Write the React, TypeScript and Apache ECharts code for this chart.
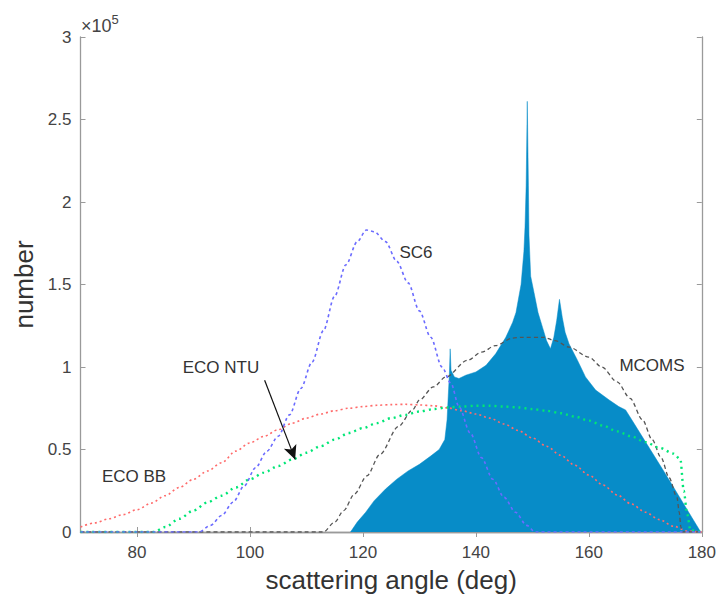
import React, { useEffect, useRef } from "react";
import * as echarts from "echarts";

// scattering angle (deg) and counts (x 1e5)
const fillAngles = [117.8, 119, 120.5, 122, 124, 126, 128, 130, 132, 133.5, 134.5, 134.9, 135.1, 135.3, 135.45, 135.6, 136.2, 137, 138.2, 140, 141.8, 143.5, 145.3, 146.5, 147.1, 148, 148.5, 148.7, 148.9, 149.1, 149.3, 149.4, 149.7, 150.3, 151, 151.8, 152.5, 153.2, 153.8, 154.3, 154.8, 155.3, 155.8, 156.5, 158, 159.4, 161.2, 163.6, 165.3, 166.5, 167.6, 173.6, 179.8];
const fillValues = [0, 0.06, 0.12, 0.19, 0.26, 0.32, 0.37, 0.41, 0.46, 0.5, 0.56, 0.68, 0.82, 0.95, 1.11, 0.98, 0.94, 0.93, 0.95, 0.97, 1.01, 1.08, 1.18, 1.27, 1.33, 1.5, 1.7, 1.85, 2.1, 2.61, 2.1, 1.8, 1.55, 1.45, 1.33, 1.24, 1.16, 1.11, 1.18, 1.28, 1.41, 1.3, 1.21, 1.14, 1.04, 0.94, 0.86, 0.8, 0.76, 0.74, 0.68, 0.35, 0];

const ecoBBAngles = [70, 72.5, 75, 77.5, 80, 82.5, 85, 87.5, 90, 92.5, 95, 97.5, 100, 102.5, 105, 107.5, 110, 112.5, 115, 117.5, 120, 122.5, 125, 127.5, 130, 132.5, 135, 137.5, 140, 142.5, 145, 147.5, 150, 152.5, 155, 157.5, 160, 162.5, 165, 167.5, 170, 172.5, 175, 177.5, 180];
const ecoBBValues = [0.03, 0.055, 0.08, 0.105, 0.135, 0.175, 0.22, 0.27, 0.32, 0.37, 0.42, 0.49, 0.54, 0.58, 0.62, 0.66, 0.69, 0.715, 0.735, 0.75, 0.76, 0.768, 0.772, 0.774, 0.77, 0.765, 0.752, 0.735, 0.715, 0.69, 0.655, 0.615, 0.57, 0.52, 0.465, 0.405, 0.345, 0.285, 0.225, 0.17, 0.12, 0.075, 0.035, 0.005, 0];

const ecoNTUAngles = [70, 83, 85, 87.5, 90, 92.5, 95, 97.5, 100, 102.5, 105, 107.5, 110, 112.5, 115, 117.5, 120, 122.5, 125, 127.5, 130, 132.5, 135, 137.5, 140, 142.5, 145, 147.5, 150, 152.5, 155, 157.5, 160, 162.5, 165, 167.5, 170, 172.5, 175, 176.2, 176.8, 177.4, 178, 180];
const ecoNTUValues = [0, 0, 0.03, 0.08, 0.13, 0.18, 0.22, 0.27, 0.32, 0.36, 0.4, 0.44, 0.48, 0.52, 0.56, 0.6, 0.63, 0.66, 0.69, 0.71, 0.73, 0.745, 0.755, 0.76, 0.765, 0.765, 0.76, 0.755, 0.745, 0.735, 0.72, 0.7, 0.675, 0.645, 0.61, 0.58, 0.545, 0.51, 0.475, 0.44, 0.25, 0.11, 0.01, 0];

const sc6Angles = [70, 91, 93, 95, 97, 99, 101, 103, 105, 107, 109, 111, 113, 115, 117, 119, 120.6, 122, 124, 126, 128, 130, 132, 134, 135.6, 137, 139, 141, 143, 145, 147, 149, 150.5, 180];
const sc6Values = [0, 0, 0.04, 0.1, 0.18, 0.28, 0.39, 0.49, 0.58, 0.71, 0.87, 1.03, 1.22, 1.43, 1.62, 1.76, 1.83, 1.82, 1.76, 1.64, 1.51, 1.34, 1.18, 1.0, 0.9, 0.76, 0.6, 0.45, 0.32, 0.21, 0.12, 0.04, 0, 0];

const mcomsAngles = [70, 113, 115, 116.6, 118.5, 120.7, 123, 126.3, 128.8, 130, 132.5, 134.7, 138.5, 141, 143.5, 146.5, 148, 152, 154, 156.5, 160, 162.3, 165, 167.3, 169.5, 171.2, 172.8, 174.2, 175.6, 176, 176.3, 176.5, 180];
const mcomsValues = [0, 0, 0.06, 0.13, 0.23, 0.34, 0.47, 0.64, 0.74, 0.8, 0.88, 0.94, 1.04, 1.09, 1.13, 1.175, 1.18, 1.18, 1.16, 1.12, 1.06, 1.0, 0.91, 0.81, 0.68, 0.56, 0.45, 0.33, 0.21, 0.12, 0.03, 0, 0];

const xTicks = [80, 100, 120, 140, 160, 180];
const arrowStart = [102.6, 0.92];
const arrowEnd = [108, 0.44];

const pairs = (xs: number[], ys: number[]) => xs.map((x, i) => [x, ys[i]]);

const FONT = "'Liberation Sans', Arial, Helvetica, sans-serif";
const AXIS_COLOR = "#9a9a9a";
const TEXT_COLOR = "#444";

export default function App() {
  const ref = useRef<HTMLDivElement>(null);
  useEffect(() => {
    if (!ref.current) return;
    const chart = echarts.init(ref.current, null, { renderer: "svg" });
    const lineSeries = (name: string, data: number[][], color: string, width: number, dash: number[], extra: any = {}) => ({
      name,
      type: "line",
      data,
      showSymbol: false,
      symbol: "none",
      smooth: 0.3,
      smoothMonotone: "x",
      lineStyle: { color, width, type: dash },
      z: 3,
      ...extra,
    });
    chart.setOption({
      animation: false,
      backgroundColor: "#fff",
      textStyle: { fontFamily: FONT },
      grid: { left: 80.5, right: 16, top: 37, bottom: 66 },
      xAxis: [
        {
          type: "value",
          min: 70,
          max: 180,
          position: "bottom",
          name: "scattering angle (deg)",
          nameLocation: "middle",
          nameGap: 35,
          nameTextStyle: { fontSize: 26, color: "#333", fontFamily: FONT },
          axisLine: { show: true, lineStyle: { color: AXIS_COLOR, width: 1.3 } },
          axisTick: { show: true, inside: true, length: 5, customValues: xTicks, lineStyle: { color: AXIS_COLOR } },
          axisLabel: { customValues: xTicks, fontSize: 17, color: TEXT_COLOR, margin: 12, fontFamily: FONT },
          splitLine: { show: false },
        },
        {
          type: "value",
          min: 70,
          max: 180,
          position: "top",
          axisLine: { show: true, lineStyle: { color: AXIS_COLOR, width: 1.3 } },
          axisTick: { show: true, inside: true, length: 5, customValues: xTicks, lineStyle: { color: AXIS_COLOR } },
          axisLabel: { show: false },
          splitLine: { show: false },
        },
      ],
      yAxis: [
        {
          type: "value",
          min: 0,
          max: 3,
          interval: 0.5,
          position: "left",
          name: "number",
          nameLocation: "middle",
          nameRotate: 90,
          nameGap: 44,
          nameTextStyle: { fontSize: 26, color: "#333", fontFamily: FONT },
          axisLine: { show: true, lineStyle: { color: AXIS_COLOR, width: 1.3 } },
          axisTick: { show: true, inside: true, length: 5, lineStyle: { color: AXIS_COLOR } },
          axisLabel: { fontSize: 17, color: TEXT_COLOR, margin: 9, fontFamily: FONT, formatter: (v: number) => String(v) },
          splitLine: { show: false },
        },
        {
          type: "value",
          min: 0,
          max: 3,
          interval: 0.5,
          position: "right",
          axisLine: { show: true, lineStyle: { color: AXIS_COLOR, width: 1.3 } },
          axisTick: { show: true, inside: true, length: 5, lineStyle: { color: AXIS_COLOR } },
          axisLabel: { show: false },
          splitLine: { show: false },
        },
      ],
      series: [
        {
          name: "simulated",
          type: "line",
          data: pairs(fillAngles, fillValues),
          showSymbol: false,
          symbol: "none",
          lineStyle: { width: 0.5, color: "#078cc8" },
          areaStyle: { color: "#078cc8", opacity: 1 },
          z: 2,
        },
        lineSeries("ECO BB", pairs(ecoBBAngles, ecoBBValues), "#ff6b6b", 1.6, [2, 3]),
        lineSeries("MCOMS", pairs(mcomsAngles, mcomsValues), "#555555", 1.3, [4, 3]),
        lineSeries("ECO NTU", pairs(ecoNTUAngles, ecoNTUValues), "#00e676", 2.4, [2, 4], {
          markLine: {
            silent: true,
            symbol: ["none", "arrow"],
            symbolSize: [10, 14],
            label: { show: false },
            lineStyle: { color: "#111", type: "solid", width: 1.2, curveness: 0.08 },
            data: [[{ coord: arrowStart }, { coord: arrowEnd }]],
          },
        }),
        lineSeries("SC6", pairs(sc6Angles, sc6Values), "#6b6bff", 1.6, [3, 3]),
      ],
      graphic: [
        {
          type: "text",
          left: 81,
          top: 13,
          style: {
            text: "{a|×10}{b|5}",
            rich: {
              a: { fontSize: 18, fill: TEXT_COLOR, fontFamily: FONT, verticalAlign: "bottom", lineHeight: 22 },
              b: { fontSize: 13, fill: TEXT_COLOR, fontFamily: FONT, verticalAlign: "top", lineHeight: 13, padding: [0, 0, 10, 0] },
            },
          },
        },
        { type: "text", x: 416, y: 252, style: { text: "SC6", fontSize: 17, fill: "#333", fontFamily: FONT, align: "center", verticalAlign: "middle" } },
        { type: "text", x: 652, y: 365, style: { text: "MCOMS", fontSize: 17, fill: "#333", fontFamily: FONT, align: "center", verticalAlign: "middle" } },
        { type: "text", x: 221, y: 367, style: { text: "ECO NTU", fontSize: 17, fill: "#333", fontFamily: FONT, align: "center", verticalAlign: "middle" } },
        { type: "text", x: 134, y: 476, style: { text: "ECO BB", fontSize: 17, fill: "#333", fontFamily: FONT, align: "center", verticalAlign: "middle" } },
      ],
    });
    return () => chart.dispose();
  }, []);
  return <div ref={ref} style={{ width: 719, height: 598, position: "absolute", left: 0, top: 0 }} />;
}
